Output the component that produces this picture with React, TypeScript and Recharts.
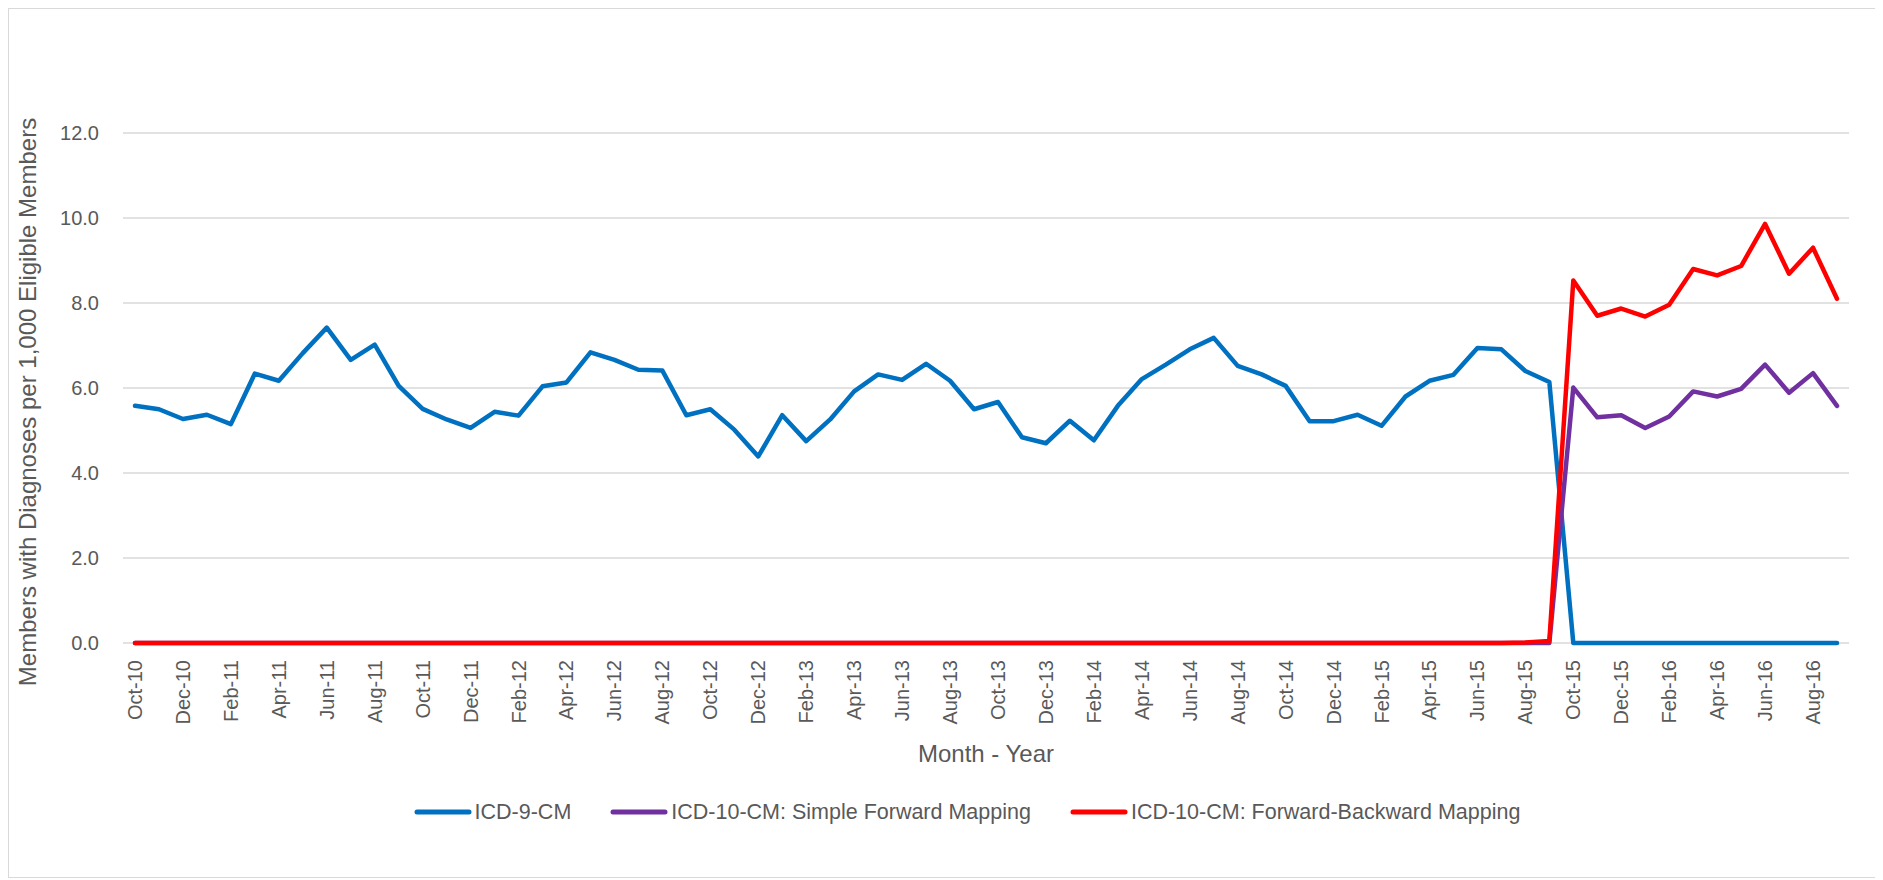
import React from 'react';
import { LineChart, Line, XAxis, YAxis, CartesianGrid, Legend, Label } from 'recharts';

const months = [
  'Oct-10', 'Nov-10', 'Dec-10', 'Jan-11', 'Feb-11', 'Mar-11', 'Apr-11', 'May-11', 'Jun-11', 'Jul-11', 'Aug-11', 'Sep-11',
  'Oct-11', 'Nov-11', 'Dec-11', 'Jan-12', 'Feb-12', 'Mar-12', 'Apr-12', 'May-12', 'Jun-12', 'Jul-12', 'Aug-12', 'Sep-12',
  'Oct-12', 'Nov-12', 'Dec-12', 'Jan-13', 'Feb-13', 'Mar-13', 'Apr-13', 'May-13', 'Jun-13', 'Jul-13', 'Aug-13', 'Sep-13',
  'Oct-13', 'Nov-13', 'Dec-13', 'Jan-14', 'Feb-14', 'Mar-14', 'Apr-14', 'May-14', 'Jun-14', 'Jul-14', 'Aug-14', 'Sep-14',
  'Oct-14', 'Nov-14', 'Dec-14', 'Jan-15', 'Feb-15', 'Mar-15', 'Apr-15', 'May-15', 'Jun-15', 'Jul-15', 'Aug-15', 'Sep-15',
  'Oct-15', 'Nov-15', 'Dec-15', 'Jan-16', 'Feb-16', 'Mar-16', 'Apr-16', 'May-16', 'Jun-16', 'Jul-16', 'Aug-16', 'Sep-16',
];

const icd9 = [
  5.58, 5.5, 5.27, 5.37, 5.15, 6.34, 6.17, 6.82, 7.42, 6.66, 7.02, 6.05,
  5.51, 5.26, 5.06, 5.44, 5.35, 6.04, 6.13, 6.84, 6.66, 6.43, 6.41, 5.36,
  5.5, 5.02, 4.39, 5.36, 4.75, 5.26, 5.92, 6.32, 6.19, 6.57, 6.17, 5.5,
  5.67, 4.84, 4.7, 5.23, 4.77, 5.58, 6.21, 6.55, 6.91, 7.18, 6.52, 6.32,
  6.05, 5.22, 5.22, 5.37, 5.11, 5.8, 6.17, 6.31, 6.94, 6.91, 6.4, 6.14,
  0, 0, 0, 0, 0, 0, 0, 0, 0, 0, 0, 0,
];

const icd10Simple = [
  0, 0, 0, 0, 0, 0, 0, 0, 0, 0, 0, 0,
  0, 0, 0, 0, 0, 0, 0, 0, 0, 0, 0, 0,
  0, 0, 0, 0, 0, 0, 0, 0, 0, 0, 0, 0,
  0, 0, 0, 0, 0, 0, 0, 0, 0, 0, 0, 0,
  0, 0, 0, 0, 0, 0, 0, 0, 0, 0, 0, 0,
  6.01, 5.31, 5.36, 5.06, 5.33, 5.92, 5.8, 5.98, 6.55, 5.89, 6.35, 5.58,
];

const icd10FwdBwd = [
  0, 0, 0, 0, 0, 0, 0, 0, 0, 0, 0, 0,
  0, 0, 0, 0, 0, 0, 0, 0, 0, 0, 0, 0,
  0, 0, 0, 0, 0, 0, 0, 0, 0, 0, 0, 0,
  0, 0, 0, 0, 0, 0, 0, 0, 0, 0, 0, 0,
  0, 0, 0, 0, 0, 0, 0, 0, 0, 0, 0.01, 0.05,
  8.53, 7.7, 7.87, 7.68, 7.96, 8.8, 8.65, 8.87, 9.86, 8.69, 9.3, 8.1,
];

const yTicks = [0, 2, 4, 6, 8, 10, 12];

const series = [
  { key: 'icd9', name: 'ICD-9-CM', color: '#0070C0' },
  { key: 'simple', name: 'ICD-10-CM: Simple Forward Mapping', color: '#7030A0' },
  { key: 'fwdbwd', name: 'ICD-10-CM: Forward-Backward Mapping', color: '#FF0000' },
];

const data = months.map((m, i) => ({
  month: m,
  icd9: icd9[i],
  simple: icd10Simple[i],
  fwdbwd: icd10FwdBwd[i],
}));

const FONT = '"Liberation Sans", Arial, sans-serif';
const TEXT = '#595959';

const XTick = (props: any) => {
  const { x, y, payload } = props;
  return (
    <text
      x={x}
      y={y}
      transform={`rotate(-90 ${x} ${y})`}
      textAnchor="end"
      dy="0.35em"
      fill={TEXT}
      fontSize={20}
      fontFamily={FONT}
    >
      {payload.value}
    </text>
  );
};

const YTitle = (props: any) => {
  const { viewBox } = props;
  const cx = viewBox.x + 19;
  const cy = viewBox.y + viewBox.height / 2 + 14;
  return (
    <text
      x={cx}
      y={cy}
      transform={`rotate(-90 ${cx} ${cy})`}
      textAnchor="middle"
      dy="0.35em"
      fill={TEXT}
      fontSize={24}
      fontFamily={FONT}
    >
      Members with Diagnoses per 1,000 Eligible Members
    </text>
  );
};

const XTitle = (props: any) => {
  const { viewBox } = props;
  const cx = viewBox.x + viewBox.width / 2;
  const cy = viewBox.y + 111;
  return (
    <text x={cx} y={cy} textAnchor="middle" dy="0.35em" fill={TEXT} fontSize={24} fontFamily={FONT}>
      Month - Year
    </text>
  );
};

const LegendContent = () => (
  <div
    style={{
      display: 'flex',
      justifyContent: 'center',
      alignItems: 'center',
      height: 30,
      paddingLeft: 76,
      fontFamily: FONT,
      fontSize: 21.5,
      color: TEXT,
    }}
  >
    {series.map((s, i) => (
      <div key={s.key} style={{ display: 'flex', alignItems: 'center', marginLeft: i === 0 ? 0 : 39 }}>
        <svg width={58} height={10} style={{ marginRight: 3 }}>
          <line x1={3} y1={5} x2={55} y2={5} stroke={s.color} strokeWidth={5} strokeLinecap="round" />
        </svg>
        <span>{s.name}</span>
      </div>
    ))}
  </div>
);

export default function App() {
  return (
    <div
      style={{
        width: 1875,
        height: 870,
        border: '1px solid #d9d9d9',
        boxSizing: 'border-box',
        background: '#fff',
      }}
    >
      <LineChart
        width={1873}
        height={868}
        data={data}
        margin={{ top: 124, right: 33, bottom: 50, left: 0 }}
      >
        <CartesianGrid horizontal vertical={false} stroke="#d9d9d9" strokeWidth={1.5} />
        <XAxis
          dataKey="month"
          interval={1}
          axisLine={false}
          tickLine={false}
          tickSize={0}
          tickMargin={17}
          height={154}
          padding={{ left: 12, right: 12 }}
          tick={<XTick />}
        >
          <Label content={<XTitle />} />
        </XAxis>
        <YAxis
          domain={[0, 12]}
          ticks={yTicks}
          width={114}
          axisLine={false}
          tickLine={false}
          tickSize={0}
          tickMargin={24}
          tickFormatter={(v: number) => v.toFixed(1)}
          tick={{ fill: TEXT, fontSize: 20, fontFamily: FONT }}
        >
          <Label content={<YTitle />} />
        </YAxis>
        <Legend verticalAlign="bottom" height={30} content={<LegendContent />} />
        {series.map((s) => (
          <Line
            key={s.key}
            type="linear"
            dataKey={s.key}
            name={s.name}
            stroke={s.color}
            strokeWidth={4.5}
            strokeLinejoin="round"
            strokeLinecap="round"
            dot={false}
            activeDot={false}
            isAnimationActive={false}
          />
        ))}
      </LineChart>
    </div>
  );
}
